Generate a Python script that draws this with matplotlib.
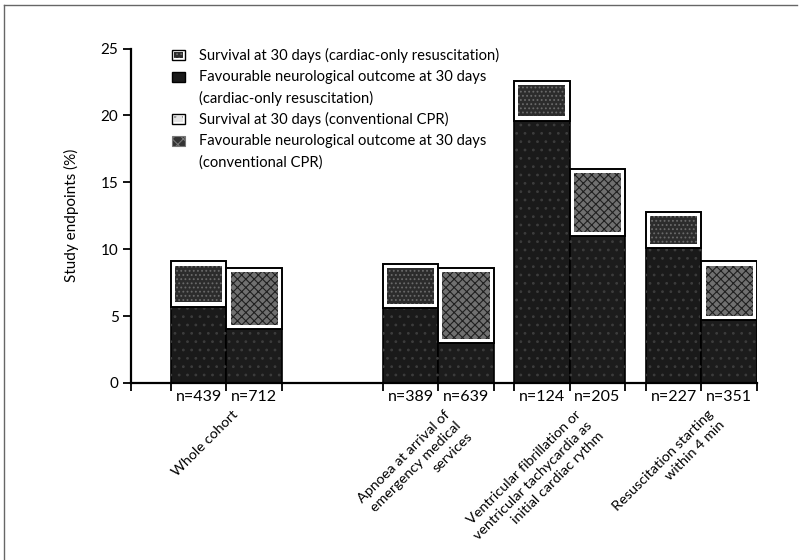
import numpy as np
import matplotlib.pyplot as plt
from matplotlib.lines import Line2D
from matplotlib.patches import Rectangle

#%% datos
categories = ['Whole cohort',
              'Apnoea at arrival of\nemergency medical\nservices',
              'Ventricular fibrillation or\nventricular tachycardia as\ninitial cardiac rythm',
              'Resuscitation starting\nwithin 4 min']
n_cardiac = [439, 389, 124, 227]
n_conv = [712, 639, 205, 351]
surv_cardiac = [9.1, 8.9, 22.6, 12.8]
fav_cardiac = [5.7, 5.6, 19.6, 10.1]
surv_conv = [8.6, 8.6, 16.0, 9.1]
fav_conv = [4.0, 3.0, 11.0, 4.7]
legend_labels = ['Survival at 30 days (cardiac-only resuscitation)',
                 'Favourable neurological outcome at 30 days\n(cardiac-only resuscitation)',
                 'Survival at 30 days (conventional CPR)',
                 'Favourable neurological outcome at 30 days\n(conventional CPR)']
yticks = [0, 5, 10, 15, 20, 25]

#%% estilo
plt.rcParams['font.family'] = ['Lato', 'DejaVu Sans']
plt.rcParams['hatch.linewidth'] = 0.8

W, H = 801, 560
fig = plt.figure(figsize=(W / 100, H / 100), dpi=100)
ax = fig.add_axes([131 / W, 1 - 383 / H, (757 - 131) / W, (383 - 48.5) / H])

centers = np.array([0.0, 3.81, 6.17, 8.54])
left = centers - 0.5
right = centers + 0.5
dx, dy = 0.075, 0.32  # margen blanco interior del tramo de supervivencia

# tramos de resultado neurologico favorable
ax.bar(left, fav_cardiac, width=1, color='#1a1a1a', edgecolor='black', lw=1.2, zorder=2)
ax.bar(right, fav_conv, width=1, color='#1c1c1c', edgecolor='black', lw=1.2, zorder=2)
ax.bar(left, fav_cardiac, width=1, color='none', edgecolor='#3c3c3c', lw=0, hatch='..', zorder=2)
ax.bar(right, fav_conv, width=1, color='none', edgecolor='#3c3c3c', lw=0, hatch='..', zorder=2)

# tramos de supervivencia: caja blanca con borde negro y relleno interior
sc = np.array(surv_cardiac) - np.array(fav_cardiac)
sv = np.array(surv_conv) - np.array(fav_conv)
ax.bar(left, sc, bottom=fav_cardiac, width=1, color='white', edgecolor='black', lw=1.4, zorder=2)
ax.bar(right, sv, bottom=fav_conv, width=1, color='white', edgecolor='black', lw=1.4, zorder=2)
ax.bar(left, sc - 2 * dy, bottom=np.array(fav_cardiac) + dy, width=1 - 2 * dx,
       color='#2c2c2c', edgecolor='#6a6a6a', lw=0, hatch='....', zorder=3)
ax.bar(right, sv - 2 * dy, bottom=np.array(fav_conv) + dy, width=1 - 2 * dx,
       color='#707070', edgecolor='#202020', lw=0, hatch='xxxx', zorder=3)

ax.set_xlim(-1.714, 9.54)
ax.set_ylim(0, 25)
ax.spines['top'].set_visible(False)
ax.spines['right'].set_visible(False)
ax.spines['left'].set_linewidth(1.6)
ax.spines['bottom'].set_linewidth(1.6)
ax.set_yticks(yticks)
ax.tick_params(axis='y', direction='out', length=6, width=1.3, labelsize=11, pad=3)
edges = np.sort(np.concatenate([[-1.714], centers - 1, centers, centers + 1]))
ax.set_xticks(edges)
ax.set_xticklabels([])
ax.tick_params(axis='x', direction='out', length=6, width=1.3)

# etiquetas n= y categorias (renglones alineados a la derecha)
for i in range(len(centers)):
    for xx, nn in ((left[i], n_cardiac[i]), (right[i], n_conv[i])):
        ax.annotate('n=%d' % nn, xy=(xx, 0), xycoords=('data', 'axes fraction'),
                    xytext=(0, -10), textcoords='offset points',
                    ha='center', va='center', fontsize=11.5)
    ax.annotate(categories[i], xy=(centers[i], 0), xycoords=('data', 'axes fraction'),
                xytext=(4, -18), textcoords='offset points', rotation=45,
                rotation_mode='anchor', ha='right', va='top', multialignment='right',
                fontsize=10.4, linespacing=1.35)

ax.set_ylabel('Study endpoints (%)', fontsize=11)
ax.yaxis.set_label_coords(-(131 - 79) / (757 - 131), 0.5)

#%% leyenda hecha a mano (una linea de texto por renglon)
line_y = [55, 76.7, 98.3, 119, 140.7, 162.3]
row = 0
for k, lab in enumerate(legend_labels):
    yy = line_y[row]
    x0, y0 = 172 / W, 1 - (yy + 5) / H
    bw, bh = 13 / W, 10 / H
    if k == 0:
        fig.add_artist(Rectangle((x0, y0), bw, bh, facecolor='white', edgecolor='black', lw=1))
        fig.add_artist(Rectangle((x0 + 2 / W, y0 + 2 / H), bw - 4 / W, bh - 4 / H,
                                 facecolor='#2c2c2c', edgecolor='#6a6a6a', lw=0, hatch='....'))
    elif k == 1:
        fig.add_artist(Rectangle((x0, y0), bw, bh, facecolor='#1a1a1a', edgecolor='black', lw=1))
    elif k == 2:
        fig.add_artist(Rectangle((x0, y0), bw, bh, facecolor='white', edgecolor='black', lw=1))
        fig.add_artist(Rectangle((x0 + 2 / W, y0 + 2 / H), bw - 4 / W, bh - 4 / H,
                                 facecolor='#e4e4e4', edgecolor='#999999', lw=0, hatch='..'))
    else:
        fig.add_artist(Rectangle((x0, y0), bw, bh, facecolor='#333333', edgecolor='#777777',
                                 lw=0.8, hatch='xxx'))
    for part in lab.split('\n'):
        fig.text(199 / W, 1 - line_y[row] / H, part, ha='left', va='center', fontsize=10.6)
        row += 1

# marco del recorte escaneado
fig.add_artist(Line2D([3.5 / W, 3.5 / W], [0, 1 - 5 / H], color='#666666', lw=1))
fig.add_artist(Line2D([3.5 / W, 797 / W], [1 - 5 / H, 1 - 5 / H], color='#666666', lw=1))

fig.savefig('out.png', dpi=100)
